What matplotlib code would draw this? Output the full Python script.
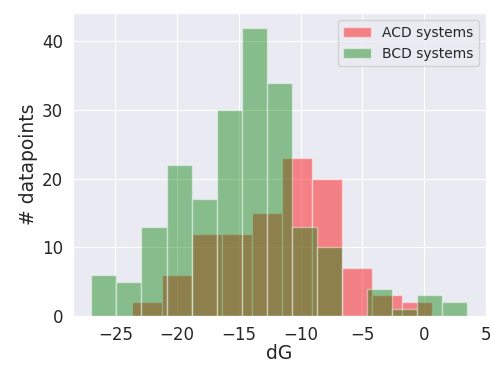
import matplotlib
matplotlib.use("Agg")
import matplotlib.pyplot as plt
import numpy as np
import seaborn as sns

# histogram counts
acd_counts = [2, 6, 12, 12, 15, 23, 20, 7, 3, 2]
acd_lo, acd_hi = -23.61, 0.59
bcd_counts = [6, 5, 13, 22, 17, 30, 42, 34, 13, 10, 0, 4, 1, 3, 2]
bcd_lo, bcd_hi = -26.93, 3.44

sns.set_style("darkgrid")
plt.rcParams["font.family"] = ["DejaVu Sans"]

acd_edges = np.linspace(acd_lo, acd_hi, len(acd_counts) + 1)
bcd_edges = np.linspace(bcd_lo, bcd_hi, len(bcd_counts) + 1)

fig = plt.figure(figsize=(4.91, 3.67), dpi=100)
ax = fig.add_axes([0.148, 0.139, 0.842, 0.825])

ax.hist(acd_edges[:-1] + np.diff(acd_edges) / 2, bins=acd_edges, weights=acd_counts,
        color="r", alpha=0.45, label="ACD systems")
ax.hist(bcd_edges[:-1] + np.diff(bcd_edges) / 2, bins=bcd_edges, weights=bcd_counts,
        color="g", alpha=0.42, label="BCD systems")

ax.set_xticks([-25, -20, -15, -10, -5, 0, 5])
ax.set_yticks([0, 10, 20, 30, 40])
ax.tick_params(labelsize=12)
ax.set_xlabel("dG", fontsize=13.5, labelpad=0)
ax.set_ylabel("# datapoints", fontsize=13.5, labelpad=3)
ax.legend(loc="upper right", fontsize=10)

fig.savefig("out.png", dpi=100)
